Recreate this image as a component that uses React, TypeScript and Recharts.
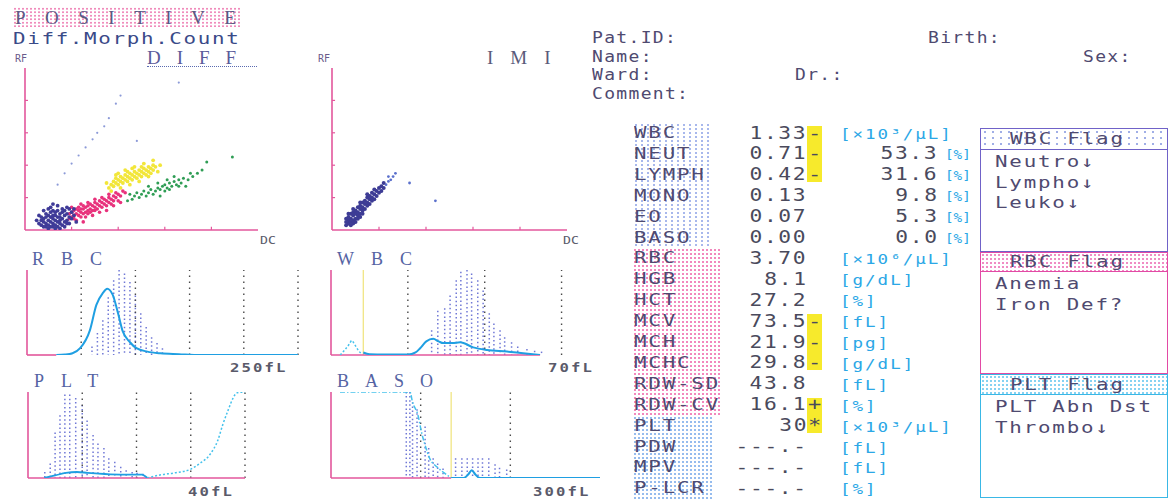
import React from "react";
import {
  ScatterChart,
  Scatter,
  XAxis,
  YAxis,
  ComposedChart,
  Bar,
  Line,
  ReferenceLine,
} from "recharts";

type Pt = [number, number];

// ---------- DIFF scattergram (DC on x, RF on y, both 0-100) ----------
const diffPurple: Pt[] = [
  [7, 3], [8, 5], [9, 2], [9, 4], [10, 6], [10, 3], [11, 8], [11, 5], [12, 2], [12, 4],
  [12, 7], [13, 3], [13, 6], [13, 9], [14, 5], [14, 2], [14, 8], [15, 4], [15, 6], [15, 10],
  [16, 3], [16, 7], [17, 5], [17, 9], [18, 6], [18, 4], [19, 8], [10, 9], [11, 11], [12, 12],
  [9, 8], [8, 7], [13, 11], [14, 12], [16, 11], [17, 12], [18, 10], [20, 7], [20, 11], [7, 6],
  [8, 2], [10, 1], [11, 2], [12, 9], [13, 1], [15, 1], [16, 13], [14, 15], [11, 14], [9, 10],
  [19, 13], [21, 9], [6, 4], [7, 8], [15, 8], [17, 2], [19, 4], [18, 14], [12, 16], [10, 13],
  [5, 6], [6, 9], [22, 5], [21, 13], [8, 12],
];
const diffMagenta: Pt[] = [
  [19, 7], [19, 10], [20, 8], [20, 11], [21, 9], [21, 12], [21, 7], [22, 10], [22, 13], [23, 9],
  [23, 12], [23, 14], [24, 11], [24, 13], [24, 8], [25, 10], [25, 13], [25, 15], [26, 11], [26, 14],
  [27, 12], [27, 15], [27, 10], [28, 13], [28, 16], [28, 11], [29, 12], [29, 15], [30, 14], [30, 17],
  [30, 12], [31, 13], [31, 16], [32, 15], [32, 18], [33, 14], [33, 17], [34, 16], [34, 19], [35, 15],
  [35, 18], [36, 17], [36, 20], [37, 16], [37, 19], [38, 18], [38, 21], [39, 20], [40, 18], [40, 22],
  [41, 21], [43, 23], [20, 14], [22, 6], [24, 16], [26, 8], [27, 17], [29, 9], [30, 19], [32, 11],
  [33, 20], [35, 12], [36, 22], [38, 15], [39, 23], [41, 17], [42, 24], [25, 5],
];
const diffYellow: Pt[] = [
  [36, 26], [37, 28], [38, 27], [38, 30], [39, 29], [40, 28], [40, 31], [41, 30], [41, 33], [42, 29],
  [42, 32], [43, 31], [43, 34], [44, 33], [44, 30], [45, 32], [45, 35], [46, 34], [46, 31], [47, 33],
  [47, 36], [48, 35], [48, 32], [49, 34], [49, 37], [50, 36], [50, 33], [51, 35], [51, 38], [52, 37],
  [52, 34], [53, 36], [53, 39], [54, 38], [55, 37], [55, 40], [56, 39], [39, 32], [44, 36], [35, 29],
  [37, 24], [39, 34], [41, 26], [43, 37], [45, 28], [47, 39], [49, 30], [51, 41], [53, 33], [55, 43],
  [57, 36], [40, 35], [46, 38], [50, 39], [54, 35], [58, 40],
];
const diffGreen: Pt[] = [
  [44, 18], [46, 19], [47, 21], [49, 20], [50, 22], [51, 24], [52, 21], [53, 23], [54, 25], [55, 22],
  [56, 24], [57, 26], [58, 25], [59, 27], [60, 24], [60, 28], [61, 26], [62, 29], [63, 27], [64, 30],
  [65, 28], [66, 31], [67, 29], [68, 32], [70, 31], [72, 33], [74, 35], [76, 37], [57, 29], [62, 25],
  [66, 27], [48, 23], [78, 42], [89, 45], [45, 22], [53, 27], [58, 21], [64, 33], [69, 27], [71, 35],
  [61, 31],
];
const diffSparse: Pt[] = [
  [14, 28], [17, 35], [20, 41], [23, 46], [26, 51], [29, 56], [31, 60], [34, 64], [36, 69],
  [39, 78], [41, 83], [66, 91], [48, 55],
];

// ---------- IMI scattergram ----------
const imiCells: Pt[] = [
  [7, 4], [7, 6], [7, 8], [8, 5], [8, 7], [8, 10], [9, 6], [9, 9], [9, 11], [10, 7],
  [10, 10], [10, 12], [11, 9], [11, 11], [11, 14], [12, 10], [12, 13], [12, 15], [13, 12], [13, 14],
  [13, 17], [14, 13], [14, 16], [14, 18], [15, 15], [15, 17], [15, 20], [16, 16], [16, 19], [16, 21],
  [17, 18], [17, 20], [17, 23], [18, 19], [18, 22], [19, 21], [19, 24], [20, 23], [20, 26], [21, 24],
  [21, 27], [22, 26], [22, 29], [6, 5], [6, 3], [8, 3], [9, 4], [10, 5], [7, 10], [11, 7],
  [12, 8], [13, 10], [6, 7], [9, 13], [12, 17], [15, 22], [18, 25],
];
const imiLight: Pt[] = [
  [23, 28], [24, 30], [25, 31], [26, 33], [27, 35], [24, 33], [33, 29], [44, 18],
];

// ---------- histograms: [channel, relative height %] ----------
const rbcRef: Pt[] = [
  [60, 10], [65, 26], [70, 41], [75, 68], [80, 88], [85, 100], [90, 96], [95, 86], [100, 70],
  [105, 49], [110, 33], [115, 21], [120, 14], [125, 8],
];
const rbcCurve: Pt[] = [
  [27, 0], [35, 0.5], [42, 2], [49, 8], [58, 29], [64, 59], [70, 73], [74, 78], [79, 71], [84, 49],
  [88, 29], [95, 15], [101, 8], [111, 4], [123, 2], [140, 1], [160, 0], [250, 0],
];

const wbcRef: Pt[] = [
  [131, 29], [139, 52], [148, 55], [155, 70], [163, 88], [169, 98], [177, 100], [183, 96],
  [191, 88], [198, 76], [206, 49], [212, 37], [220, 29], [226, 21], [235, 15], [243, 10],
  [255, 7], [265, 5], [274, 4],
];
const wbcGhost: Pt[] = [[12, 0], [18, 6], [24, 13], [27, 17], [31, 12], [36, 5], [40, 1]];
const wbcCurve: Pt[] = [
  [42, 3], [50, 1], [70, 0.5], [100, 0.5], [110, 3], [116, 8], [124, 16], [133, 19], [140, 16],
  [146, 14], [158, 14], [168, 15], [185, 9], [203, 6], [229, 4], [250, 2], [272, 0],
];

const pltRef: Pt[] = [
  [3.1, 7], [4.1, 17], [5, 53], [5.9, 73], [6.8, 97], [7.7, 97], [8.8, 93], [10, 85], [10.9, 67],
  [12, 50], [12.9, 40], [14, 35], [14.9, 23], [16, 19], [17.1, 13], [18.1, 9], [19.2, 7],
  [20.1, 6], [21.2, 5],
];
const pltCurve: Pt[] = [[3, 0], [5, 3], [7, 6], [9, 7], [11, 6], [13, 5], [17, 4], [21, 4], [22, 0]];
const pltCumulative: Pt[] = [
  [22, 0], [24.3, 3.5], [27.1, 6], [29.9, 10], [31.7, 17], [33.5, 27], [35, 44], [35.9, 62],
  [36.9, 79], [37.8, 93], [38.5, 99], [40, 100],
];

const basoRef: Pt[] = [
  [84, 100], [88, 100], [91, 88], [96, 80], [105, 60], [109, 35], [114, 23], [119, 17],
  [125, 11], [139, 23], [146, 23], [152, 23], [158, 23], [164, 23], [169, 23], [176, 23],
  [183, 16], [188, 12], [196, 10],
];
const basoCumulative: Pt[] = [
  [10, 100], [88, 100], [91, 88], [97, 73], [101, 53], [105, 38], [110, 23], [118, 13],
  [125, 7], [134, 0],
];
const basoCurve: Pt[] = [[134, 0], [148, 0], [153, 4], [157, 9], [161, 4], [166, 0], [300, 0]];

// ---------- result table ----------
const tableLabels = [
  "WBC", "NEUT", "LYMPH", "MONO", "EO", "BASO", "RBC", "HGB", "HCT", "MCV", "MCH", "MCHC",
  "RDW-SD", "RDW-CV", "PLT", "PDW", "MPV", "P-LCR",
];
const tableValues = [
  "1.33", "0.71", "0.42", "0.13", "0.07", "0.00", "3.70", "8.1", "27.2", "73.5", "21.9", "29.8",
  "43.8", "16.1", "30", "---.-", "---.-", "---.-",
];
const tableFlags = ["-", "-", "-", "", "", "", "", "", "", "-", "-", "-", "", "+", "*", "", "", ""];
const wbcPercents = ["", "53.3", "31.6", "9.8", "5.3", "0.0", "", "", "", "", "", "", "", "", "", "", "", ""];
const tableUnits = [
  "[×10³/µL]", "[%]", "[%]", "[%]", "[%]", "[%]", "[×10⁶/µL]", "[g/dL]", "[%]", "[fL]", "[pg]",
  "[g/dL]", "[fL]", "[%]", "[×10³/µL]", "[fL]", "[fL]", "[%]",
];
const wbcFlags = ["Neutro↓", "Lympho↓", "Leuko↓"];
const rbcFlags = ["Anemia", "Iron Def?"];
const pltFlags = ["PLT Abn Dst", "Thrombo↓"];

// ---------- styling ----------
const W = 1173;
const H = 500;
const MONO = '"DejaVu Sans Mono", monospace';
const SERIF = '"Liberation Serif", serif';
const PINK = "#e3579c";
const BLUE = "#1f9fe2";
const CYAN = "#45c2ec";
const REFDOT = "#7078d6";
const GRID = "#4a4a4a";
const INK = "#4f4a70";
const VAL = "#4a4a5c";
const UNIT = "#2ba7e6";
const FLAG_WBC = "#7062c8";
const FLAG_RBC = "#e24aa5";
const FLAG_PLT = "#3ab8e6";
const ROW0 = 133;
const ROW = 20.9;

const dots = (color: string, sx = 4, sy = 4) => ({
  backgroundImage: `radial-gradient(circle, ${color} 0.9px, transparent 1.3px)`,
  backgroundSize: `${sx}px ${sy}px`,
});

// monospace text stretched sideways like the printer's wide dot-matrix glyphs
function Txt({
  x, right, y, size, color = INK, family = MONO, spacing = 0, scale = 1, weight, children,
}: {
  x?: number; right?: number; y: number; size: number; color?: string; family?: string;
  spacing?: number; scale?: number; weight?: number; children: React.ReactNode;
}) {
  const style: React.CSSProperties = {
    position: "absolute",
    top: y - size / 2,
    fontSize: size,
    lineHeight: `${size}px`,
    fontFamily: family,
    fontWeight: weight,
    color,
    letterSpacing: spacing,
    whiteSpace: "pre",
    transform: scale !== 1 ? `scaleX(${scale})` : undefined,
    transformOrigin: right !== undefined ? "right center" : "left center",
  };
  if (right !== undefined) style.right = W - right - spacing * scale;
  else style.left = x;
  return <div style={style}>{children}</div>;
}

const dotShape = (color: string, r: number) => (p: any) =>
  <circle cx={p.cx} cy={p.cy} r={r} fill={color} />;

const dotColumn = (p: any) => {
  if (!p || !(p.height > 0)) return <g />;
  const cx = p.x + p.width / 2;
  return (
    <line x1={cx} x2={cx} y1={p.y} y2={p.y + p.height} stroke={REFDOT}
      strokeWidth={1.5} strokeDasharray="1.5 2.6" />
  );
};

function buildTable(series: Record<string, Pt[]>) {
  const rows = new Map<number, any>();
  for (const [key, pts] of Object.entries(series)) {
    for (const [x, y] of pts) {
      const r = rows.get(x) ?? { x };
      r[key] = y;
      rows.set(x, r);
    }
  }
  return [...rows.values()].sort((a, b) => a.x - b.x);
}

const axisTicks = [20, 40, 60, 80];

function Scatterplot({ left, top, width, height, groups }: {
  left: number; top: number; width: number; height: number;
  groups: { points: Pt[]; color: string; r: number }[];
}) {
  return (
    <div style={{ position: "absolute", left: left - 2, top: top - 2 }}>
      <ScatterChart width={width + 4} height={height + 4} margin={{ top: 2, right: 2, bottom: 1, left: 1 }}>
        <XAxis type="number" dataKey="x" domain={[0, 100]} ticks={axisTicks} height={1}
          tick={false} tickLine={false} axisLine={{ stroke: PINK, strokeWidth: 1.6 }} allowDataOverflow />
        <YAxis type="number" dataKey="y" domain={[0, 100]} ticks={axisTicks} width={1}
          tick={false} tickLine={false} axisLine={{ stroke: PINK, strokeWidth: 1.6 }} allowDataOverflow />
        {/* short inward tick marks on both axes */}
        {axisTicks.map((t) => (
          <ReferenceLine key={"x" + t} segment={[{ x: t, y: 0 }, { x: t, y: 2 }]} stroke={PINK} strokeWidth={1.2} />
        ))}
        {axisTicks.map((t) => (
          <ReferenceLine key={"y" + t} segment={[{ x: 0, y: t }, { x: 1.3, y: t }]} stroke={PINK} strokeWidth={1.2} />
        ))}
        {groups.map((g, k) => (
          <Scatter key={k} data={g.points.map(([x, y]) => ({ x, y }))}
            shape={dotShape(g.color, g.r)} isAnimationActive={false} />
        ))}
      </ScatterChart>
    </div>
  );
}

function Histogram({ left, top, width, height, xMax, grid, refBars, lines, baseEnd, marker }: {
  left: number; top: number; width: number; height: number; xMax: number; grid: number[];
  refBars: Pt[]; lines: { points: Pt[]; color: string; width: number; dash?: string }[];
  baseEnd: number; marker?: number;
}) {
  const series: Record<string, Pt[]> = { ref: refBars };
  lines.forEach((l, k) => (series["l" + k] = l.points));
  const data = buildTable(series);
  return (
    <div style={{ position: "absolute", left: left - 2, top: top - 2 }}>
      <ComposedChart width={width + 4} height={height + 4} data={data}
        margin={{ top: 2, right: 2, bottom: 2, left: 1 }}>
        <XAxis type="number" dataKey="x" domain={[0, xMax]} hide allowDataOverflow />
        <YAxis type="number" domain={[0, 100]} width={1} tick={false} tickLine={false}
          axisLine={{ stroke: PINK, strokeWidth: 1.6 }} allowDataOverflow />
        {grid.map((g) => (
          <ReferenceLine key={g} x={g} stroke={GRID} strokeWidth={1.4} strokeDasharray="1.4 4.6" />
        ))}
        {marker !== undefined && <ReferenceLine x={marker} stroke="#efe37a" strokeWidth={1.2} />}
        <ReferenceLine segment={[{ x: 0, y: 0 }, { x: baseEnd, y: 0 }]} stroke={PINK} strokeWidth={1.6} />
        <Bar dataKey="ref" barSize={4} shape={dotColumn} isAnimationActive={false} />
        {lines.map((l, k) => (
          <Line key={k} dataKey={"l" + k} type="monotone" stroke={l.color} strokeWidth={l.width}
            strokeDasharray={l.dash} dot={false} connectNulls isAnimationActive={false} />
        ))}
      </ComposedChart>
    </div>
  );
}

function FlagBox({ top, headH, bodyH, title, color, bg, items }: {
  top: number; headH: number; bodyH: number; title: string; color: string;
  bg: React.CSSProperties; items: string[];
}) {
  return (
    <>
      <div style={{
        position: "absolute", left: 980, top, width: 188, height: headH, boxSizing: "border-box",
        border: `1.5px solid ${color}`, ...bg,
      }} />
      <div style={{
        position: "absolute", left: 980, top: top + headH, width: 188, height: bodyH,
        boxSizing: "border-box", borderLeft: `1.5px solid ${color}`, borderRight: `1.5px solid ${color}`,
        borderBottom: `1.5px solid ${color}`,
      }} />
      <Txt x={1010} y={top + headH / 2} size={16} spacing={1.4} scale={1.3}>{title}</Txt>
      {items.map((it, k) => (
        <Txt key={it} x={995} y={top + headH + 12 + k * 20.5} size={16} spacing={1.4} scale={1.3}>{it}</Txt>
      ))}
    </>
  );
}

export default function App() {
  const flagged = (i: number) => !!tableFlags[i];
  return (
    <div style={{
      position: "fixed", left: 0, top: 0, width: W, height: H, background: "#fff",
      overflow: "hidden", fontFamily: MONO,
    }}>
      {/* title block */}
      <div style={{ position: "absolute", left: 13, top: 7, width: 229, height: 20, ...dots("#f08cbc", 4, 3.5) }} />
      <Txt x={15} y={17} size={19} family={SERIF} spacing={19.5} color="#5a5a84">POSITIVE</Txt>
      <Txt x={13} y={38.5} size={16} spacing={1.3} scale={1.3} color="#3a4a88">Diff.Morph.Count</Txt>

      {/* DIFF */}
      <Txt x={15} y={59} size={10} color="#6a5a8a">RF</Txt>
      <Txt x={147} y={57.5} size={19} family={SERIF} spacing={16} color="#5a5a9a">DIFF</Txt>
      <div style={{ position: "absolute", left: 147, top: 66, width: 110, borderTop: "1.5px dotted #5a6ab0" }} />
      <Scatterplot left={25} top={68} width={233} height={162} groups={[
        { points: diffSparse, color: "#8c9ad8", r: 1.1 },
        { points: diffGreen, color: "#2f9d55", r: 1.5 },
        { points: diffYellow, color: "#f2e63a", r: 1.9 },
        { points: diffMagenta, color: "#e8327c", r: 1.8 },
        { points: diffPurple, color: "#3f3b98", r: 1.9 },
      ]} />
      <Txt x={260} y={240} size={11} color="#5a5a6a" scale={1.2}>DC</Txt>

      {/* IMI */}
      <Txt x={318} y={59} size={10} color="#6a5a8a">RF</Txt>
      <Txt x={487} y={57.5} size={19} family={SERIF} spacing={17} color="#5a5a7a">IMI</Txt>
      <Scatterplot left={332} top={68} width={235} height={162} groups={[
        { points: imiLight, color: "#5b70cc", r: 1.4 },
        { points: imiCells, color: "#3d3c95", r: 2 },
      ]} />
      <Txt x={563} y={240} size={11} color="#5a5a6a" scale={1.2}>DC</Txt>

      {/* RBC histogram */}
      <Txt x={32} y={259} size={18} family={SERIF} spacing={17} color="#5563a3">RBC</Txt>
      <Histogram left={27} top={270} width={271} height={85} xMax={250} grid={[50, 100, 150, 200, 250]}
        refBars={rbcRef} baseEnd={27}
        lines={[{ points: rbcCurve, color: BLUE, width: 2 }]} />
      <Txt x={230} y={368} size={12} spacing={1.6} scale={1.3} weight={700} color="#5a5a6a">250fL</Txt>

      {/* WBC histogram */}
      <Txt x={337} y={259} size={18} family={SERIF} spacing={17} color="#5563a3">WBC</Txt>
      <Histogram left={331} top={270} width={269} height={85} xMax={350} grid={[100, 200, 300]}
        refBars={wbcRef} baseEnd={272} marker={42}
        lines={[
          { points: wbcGhost, color: CYAN, width: 1.5, dash: "2 2" },
          { points: wbcCurve, color: BLUE, width: 2 },
        ]} />
      <Txt x={548} y={368} size={12} spacing={1.6} scale={1.3} weight={700} color="#5a5a6a">70fL</Txt>

      {/* PLT histogram */}
      <Txt x={34} y={381} size={18} family={SERIF} spacing={17} color="#5563a3">PLT</Txt>
      <Histogram left={28} top={392} width={217} height={86} xMax={40} grid={[10, 20, 30, 40]}
        refBars={pltRef} baseEnd={40}
        lines={[
          { points: pltCurve, color: BLUE, width: 1.8 },
          { points: pltCumulative, color: CYAN, width: 1.5, dash: "2 2" },
        ]} />
      <Txt x={188} y={492} size={12} spacing={1.6} scale={1.3} weight={700} color="#5a5a6a">40fL</Txt>

      {/* BASO histogram */}
      <Txt x={337} y={381} size={18} family={SERIF} spacing={16} color="#5563a3">BASO</Txt>
      <Histogram left={331} top={392} width={269} height={86} xMax={300} grid={[100, 200]}
        refBars={basoRef} baseEnd={134} marker={134}
        lines={[
          { points: basoCumulative, color: CYAN, width: 1.5, dash: "5 2 1.5 2" },
          { points: basoCurve, color: BLUE, width: 2 },
        ]} />
      <Txt x={533} y={492} size={12} spacing={1.6} scale={1.3} weight={700} color="#5a5a6a">300fL</Txt>

      {/* patient header */}
      <Txt x={592} y={38} size={15} spacing={1.1} scale={1.2}>Pat.ID:</Txt>
      <Txt x={928} y={38} size={15} spacing={1.1} scale={1.2}>Birth:</Txt>
      <Txt x={592} y={57} size={15} spacing={1.1} scale={1.2}>Name:</Txt>
      <Txt x={1083} y={57} size={15} spacing={1.1} scale={1.2}>Sex:</Txt>
      <Txt x={592} y={75} size={15} spacing={1.1} scale={1.2}>Ward:</Txt>
      <Txt x={795} y={75} size={15} spacing={1.1} scale={1.2}>Dr.:</Txt>
      <Txt x={592} y={94} size={15} spacing={1.1} scale={1.2}>Comment:</Txt>

      {/* label backgrounds */}
      <div style={{ position: "absolute", left: 633, top: ROW0 - 10, width: 80, height: ROW * 6, ...dots("#a8b8ec", 6, 4) }} />
      <div style={{ position: "absolute", left: 633, top: ROW0 - 10 + ROW * 6, width: 87, height: ROW * 8, ...dots("#f288bd", 4, 4) }} />
      <div style={{ position: "absolute", left: 633, top: ROW0 - 10 + ROW * 14, width: 80, height: ROW * 4, ...dots("#96bcee", 4, 4) }} />

      {/* yellow flag marks */}
      {tableLabels.map((lab, i) => {
        if (!flagged(i)) return null;
        const y = ROW0 + i * ROW;
        const t = flagged(i - 1) ? y - ROW / 2 : y - 7;
        const b = flagged(i + 1) ? y + ROW / 2 : y + 7;
        return <div key={lab} style={{ position: "absolute", left: 807, top: t, width: 15, height: b - t, background: "#f7ea2c" }} />;
      })}

      {/* table rows */}
      {tableLabels.map((lab, i) => {
        const y = ROW0 + i * ROW;
        const pct = wbcPercents[i];
        return (
          <React.Fragment key={lab}>
            <Txt x={634} y={y} size={16} spacing={1.4} scale={1.3} color={INK}>{lab}</Txt>
            <Txt right={806} y={y} size={17} spacing={1.3} scale={1.25} color={VAL}>{tableValues[i]}</Txt>
            {tableFlags[i] && <Txt x={808} y={y} size={17} scale={1.3} color={VAL}>{tableFlags[i]}</Txt>}
            {pct ? (
              <>
                <Txt right={937} y={y} size={17} spacing={1.3} scale={1.25} color={VAL}>{pct}</Txt>
                <Txt x={945} y={y + 1} size={13} scale={1.1} color={UNIT}>{tableUnits[i]}</Txt>
              </>
            ) : (
              <Txt x={840} y={y + 1} size={14} spacing={1.6} scale={1.25} color={UNIT}>{tableUnits[i]}</Txt>
            )}
          </React.Fragment>
        );
      })}

      {/* flag boxes */}
      <FlagBox top={128} headH={22} bodyH={102} title="WBC Flag" color={FLAG_WBC}
        bg={dots("#a0aee6", 8, 6)} items={wbcFlags} />
      <FlagBox top={252} headH={20} bodyH={102} title="RBC Flag" color={FLAG_RBC}
        bg={dots("#f08cc4", 4, 4)} items={rbcFlags} />
      <FlagBox top={374} headH={21} bodyH={103} title="PLT Flag" color={FLAG_PLT}
        bg={dots("#86d2f2", 4, 4)} items={pltFlags} />
    </div>
  );
}
